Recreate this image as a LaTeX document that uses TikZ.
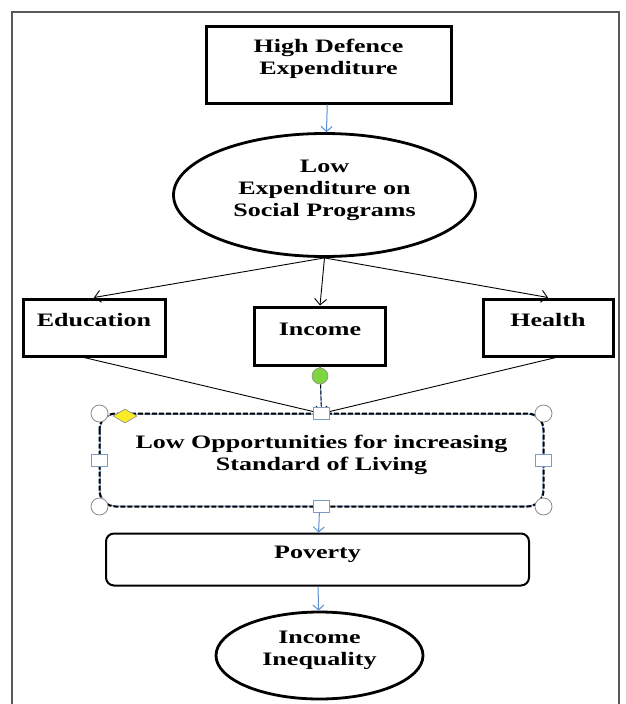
\documentclass[tikz,border=0pt]{standalone}
\usepackage{fontspec}
\setmainfont{Liberation Serif}[FakeStretch=1.37]
\usetikzlibrary{shapes.geometric,arrows.meta}

\definecolor{wordblue}{RGB}{91,143,208}
\definecolor{handleblue}{RGB}{127,156,192}
\definecolor{handlegrey}{RGB}{140,140,140}
\definecolor{rotgreen}{RGB}{125,214,63}
\definecolor{adjyellow}{RGB}{250,235,40}

% text of a shape: raised a little, no height of its own
\newcommand{\lbl}[1]{\raisebox{1pt}[0pt][0pt]{\begin{tabular}{@{}c@{}}#1\end{tabular}}}

\tikzset{
  every node/.style={inner sep=0pt, font=\fontsize{19}{22}\selectfont\bfseries},
  sqbox/.style={rectangle, draw, line width=3pt, fill=white},
  oval/.style={ellipse, draw, line width=2.8pt, fill=white},
  roundbox/.style={rectangle, rounded corners=8pt, draw, line width=2pt, fill=white},
  bluearrow/.style={draw=wordblue, line width=1pt, -{Straight Barb[length=5pt,width=11pt]}},
  blackarrow/.style={draw, line width=0.9pt, -{Straight Barb[length=6pt,width=12pt]}},
  cornerhandle/.style={circle, draw=handlegrey, fill=white, line width=0.8pt, minimum size=17pt},
  sidehandle/.style={rectangle, draw=handleblue, fill=white, line width=1pt, minimum width=16pt, minimum height=12pt},
}

\begin{document}
\begin{tikzpicture}[x=1pt,y=-1pt]
    \useasboundingbox (0,0) rectangle (625,704);
    \draw[black!65, line width=1.5pt] (12,710) -- (12,12) -- (619,12) -- (619,710);

    \node at (328.5,64.5) [sqbox, minimum width=245, minimum height=77] (hde) {\lbl{High Defence\\Expenditure}};
    \node at (324.5,195) [oval, minimum width=302, minimum height=123] (lesp) {\lbl{Low\\Expenditure on\\Social Programs}};
    \node at (94,327.5) [sqbox, minimum width=142, minimum height=57] (edu) {\lbl{Education}};
    \node at (320,336) [sqbox, minimum width=131, minimum height=58] (inc) {\lbl{Income}};
    \node at (548,327.5) [sqbox, minimum width=130, minimum height=57] (hea) {\lbl{Health}};
    \node at (321.5,460) [rectangle, rounded corners=16pt, draw=wordblue, line width=1pt, fill=white, minimum width=443, minimum height=92] (lowop) {\lbl{Low Opportunities for increasing\\Standard of Living}};
    \draw[line width=2pt, dash pattern=on 5pt off 2pt, rounded corners=16pt] (lowop.north west) rectangle (lowop.south east);
    \node at (317.5,559.5) [roundbox, minimum width=423, minimum height=52] (pov) {\lbl{Poverty}};
    \node at (319.5,655.5) [oval, minimum width=207, minimum height=87] (ineq) {\lbl{Income\\Inequality}};

    \draw[bluearrow] (hde) -- (lesp);
    \draw[blackarrow] (lesp.south) -- (edu.north);
    \draw[blackarrow] (lesp.south) -- (inc.north);
    \draw[blackarrow] (lesp.south) -- (hea.north);
    \draw[blackarrow] ([xshift=-10pt]edu.south) -- (lowop.north);
    \draw[blackarrow] ([xshift=8pt]hea.south) -- (lowop.north);
    \draw[draw=wordblue, line width=1pt] (inc.south) -- (lowop.north);
    \draw[blackarrow, dash pattern=on 4pt off 2pt] (inc.south) -- (lowop.north);
    \draw[bluearrow] (lowop) -- (pov);
    \draw[bluearrow] (pov) -- (ineq);

    % handles of the selected shape
    \foreach \a in {north west, north east, south west, south east}
        \node[cornerhandle] at (lowop.\a) {};
    \foreach \a in {north, south, east, west}
        \node[sidehandle] at (lowop.\a) {};
    \node[diamond, draw=handlegrey, fill=adjyellow, line width=0.6pt, minimum width=24pt, minimum height=14pt] (adj) at (125,416) {};
    \node[circle, draw=handlegrey, fill=rotgreen, line width=0.6pt, minimum size=16pt] (rot) at (320,376) {};
\end{tikzpicture}
\end{document}
